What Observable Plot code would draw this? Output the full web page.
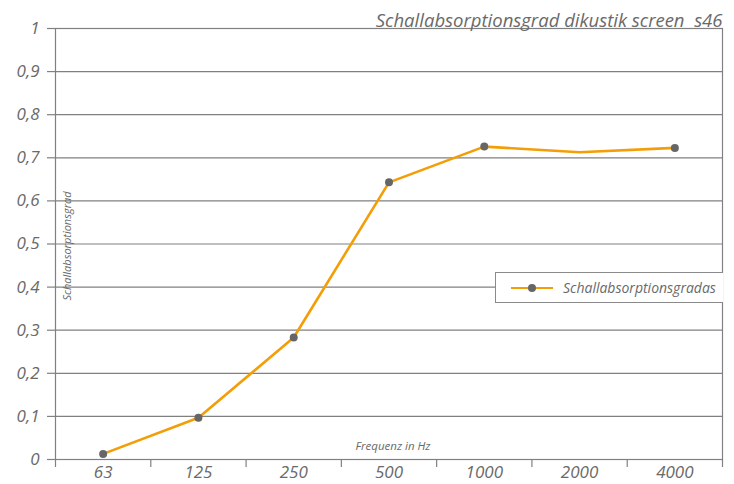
<!DOCTYPE html>
<html>
<head>
<meta charset="utf-8">
<script src="https://cdn.jsdelivr.net/npm/d3@7"></script>
<script src="https://cdn.jsdelivr.net/npm/@observablehq/plot@0.6"></script>
<style>
  html, body { margin: 0; padding: 0; background: #fff; overflow: hidden; }
  #wrap { position: relative; width: 734px; height: 484px; }
  #legend {
    position: absolute; left: 495px; top: 272px; width: 227px; height: 29px;
    background: #fff; border: 1px solid #8a8a8a; border-right: none;
    font-family: "Open Sans", sans-serif; font-style: italic; font-size: 14px; color: #6a6a6a;
    display: flex; align-items: center;
  }
  #legend svg { margin-left: 15px; margin-right: 10px; }
</style>
</head>
<body>
<div id="wrap"></div>
<script>
const frequencies = ["63", "125", "250", "500", "1000", "2000", "4000"];
const absorption = [0.013, 0.097, 0.283, 0.643, 0.726, 0.713, 0.723];
const showMarker = [true, true, true, true, true, false, true];
const yTicks = [0, 0.1, 0.2, 0.3, 0.4, 0.5, 0.6, 0.7, 0.8, 0.9, 1];
const titleText = "Schallabsorptionsgrad dikustik screen  s46";
const yLabel = "Schallabsorptionsgrad";
const xLabel = "Frequenz in Hz";
const seriesName = "Schallabsorptionsgradas";

const orange = "#f39e06";
const grey = "#6a6a6a";
const gridGrey = "#808080";

const data = frequencies.map((f, i) => ({ i: i + 0.5, f, v: absorption[i], m: showMarker[i] }));
const boundaries = d3.range(0, frequencies.length + 1);
const fmt = d => d === 0 ? "0" : d === 1 ? "1" : String(d).replace(".", ",");

const chart = Plot.plot({
  width: 734,
  height: 484,
  marginLeft: 55,
  marginRight: 12,
  marginTop: 28,
  marginBottom: 25,
  style: { fontFamily: "'Open Sans', sans-serif", color: grey, background: "#fff" },
  x: { domain: [0, frequencies.length] },
  y: { domain: [0, 1] },
  marks: [
    Plot.ruleY(yTicks, { stroke: gridGrey, strokeWidth: 1.2, strokeOpacity: 1 }),
    Plot.frame({ stroke: gridGrey, strokeWidth: 1.2 }),
    Plot.axisY({ ticks: yTicks, tickFormat: fmt, tickSize: 8, tickPadding: 8, fontSize: 17, fontStyle: "italic", stroke: gridGrey, strokeWidth: 1.2, label: null }),
    Plot.axisX({ ticks: boundaries, text: null, tickSize: 8, stroke: gridGrey, strokeWidth: 1.2, label: null }),
    Plot.axisX({ ticks: data.map(d => d.i), tickFormat: (d, k) => frequencies[k], tickSize: 0, tickPadding: 6, fontSize: 17, fontStyle: "italic", label: null }),
    Plot.text([yLabel], { frameAnchor: "left", textAnchor: "middle", rotate: -90, dx: 12, dy: 2, fontSize: 11, fontStyle: "italic", fill: grey }),
    Plot.text([xLabel], { frameAnchor: "bottom", dx: 4, dy: -10, fontSize: 11.5, fontStyle: "italic", fill: grey }),
    Plot.text([titleText], { frameAnchor: "top-right", textAnchor: "end", dy: -15, fontSize: 18.5, fontStyle: "italic", fill: grey }),
    Plot.line(data, { x: "i", y: "v", stroke: orange, strokeWidth: 2.6 }),
    Plot.dot(data.filter(d => d.m), { x: "i", y: "v", r: 4, fill: "#666", stroke: "none" })
  ]
});
const wrap = document.getElementById("wrap");
wrap.appendChild(chart);

const legend = document.createElement("div");
legend.id = "legend";
legend.innerHTML = `<svg width="42" height="10"><line x1="0" y1="5" x2="42" y2="5" stroke="${orange}" stroke-width="2"/><circle cx="21" cy="5" r="4" fill="#666"/></svg><span>${seriesName}</span>`;
wrap.appendChild(legend);
</script>
</body>
</html>
